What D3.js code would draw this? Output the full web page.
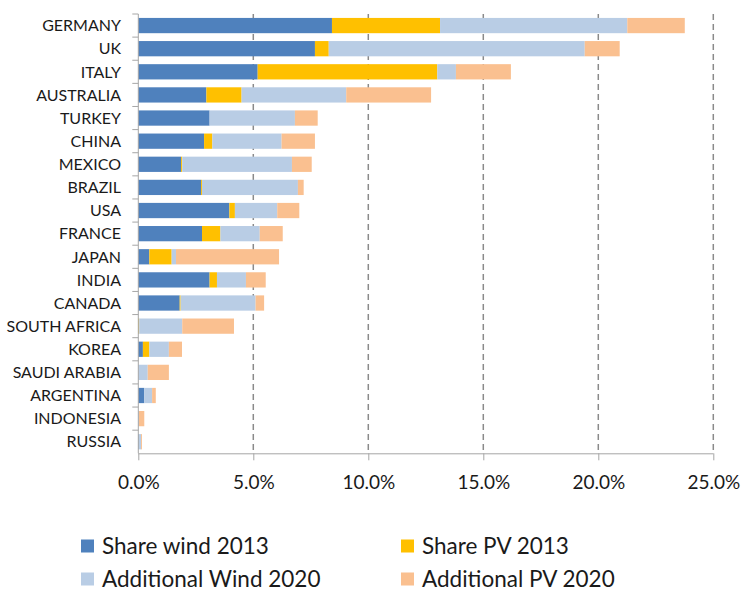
<!DOCTYPE html>
<html>
<head>
<meta charset="utf-8">
<script src="https://cdn.jsdelivr.net/npm/d3@7/dist/d3.min.js"></script>
<style>
  html, body { margin: 0; padding: 0; background: #fff; }
  svg { display: block; }
  text { font-family: Lato, "Open Sans", sans-serif; fill: #1a1a1a; }
</style>
</head>
<body>
<svg id="chart" width="742" height="592"></svg>
<script>
// Renewable share of electricity by country (% of generation)
const countries = ["GERMANY", "UK", "ITALY", "AUSTRALIA", "TURKEY", "CHINA", "MEXICO", "BRAZIL",
  "USA", "FRANCE", "JAPAN", "INDIA", "CANADA", "SOUTH AFRICA", "KOREA", "SAUDI ARABIA",
  "ARGENTINA", "INDONESIA", "RUSSIA"];
const shareWind2013 = [8.42, 7.68, 5.19, 2.96, 3.10, 2.86, 1.86, 2.73, 3.96, 2.77, 0.48, 3.10, 1.80, 0.00, 0.20, 0.00, 0.26, 0.00, 0.02];
const sharePv2013   = [4.70, 0.60, 7.81, 1.53, 0.00, 0.36, 0.05, 0.04, 0.24, 0.80, 0.97, 0.32, 0.04, 0.04, 0.28, 0.00, 0.00, 0.00, 0.00];
const addWind2020   = [8.14, 11.13, 0.81, 4.55, 3.71, 3.01, 4.77, 4.17, 1.84, 1.71, 0.19, 1.26, 3.26, 1.87, 0.85, 0.41, 0.34, 0.03, 0.10];
const addPv2020     = [2.50, 1.52, 2.39, 3.69, 0.99, 1.45, 0.86, 0.25, 0.96, 1.00, 4.48, 0.86, 0.37, 2.25, 0.57, 0.92, 0.16, 0.23, 0.04];
const seriesNames = ["Share wind 2013", "Share PV 2013", "Additional Wind 2020", "Additional PV 2020"];
const xTicks = [0, 5, 10, 15, 20, 25];

const colors = ["#4F81BD", "#FFC000", "#B9CDE5", "#FAC090"];
const seriesValues = [shareWind2013, sharePv2013, addWind2020, addPv2020];
const keys = ["w13", "pv13", "w20", "pv20"];

const rows = countries.map((c, i) => {
  const r = { country: c };
  keys.forEach((k, j) => r[k] = seriesValues[j][i]);
  return r;
});
const stacked = d3.stack().keys(keys)(rows);

const svg = d3.select("#chart");
const plot = { left: 138.3, right: 713.3, top: 14, bottom: 453.3 };

const x = d3.scaleLinear().domain([0, 25]).range([plot.left, plot.right]);
const y = d3.scaleBand().domain(countries).range([plot.top, plot.bottom])
  .paddingInner(0.34).paddingOuter(0.17);

// dashed vertical gridlines
svg.append("g").selectAll("line")
  .data(xTicks.filter(t => t > 0))
  .join("line")
  .attr("x1", d => x(d)).attr("x2", d => x(d))
  .attr("y1", plot.top).attr("y2", plot.bottom)
  .attr("stroke", "#8a8a8a").attr("stroke-width", 1.5)
  .attr("stroke-dasharray", "6,4");

// stacked segments
svg.append("g").selectAll("g")
  .data(stacked)
  .join("g")
  .attr("fill", (d, i) => colors[i])
  .selectAll("rect")
  .data(d => d)
  .join("rect")
  .attr("x", d => x(d[0]))
  .attr("width", d => Math.max(0, x(d[1]) - x(d[0])))
  .attr("y", d => y(d.data.country))
  .attr("height", y.bandwidth());

// left axis with ticks on band boundaries
const axisColor = "#a6a6a6";
const yAxis = svg.append("g");
yAxis.append("line")
  .attr("x1", plot.left).attr("x2", plot.left)
  .attr("y1", plot.top).attr("y2", plot.bottom)
  .attr("stroke", axisColor).attr("stroke-width", 1);
const step = y.step();
yAxis.selectAll("line.tick")
  .data(d3.range(countries.length))
  .join("line").attr("class", "tick")
  .attr("x1", plot.left - 6).attr("x2", plot.left)
  .attr("y1", i => plot.top + i * step).attr("y2", i => plot.top + i * step)
  .attr("stroke", axisColor);
yAxis.selectAll("text")
  .data(countries)
  .join("text")
  .attr("x", 121)
  .attr("y", d => y(d) + y.bandwidth() / 2)
  .attr("dy", "0.36em")
  .attr("text-anchor", "end")
  .attr("font-size", 16)
  .text(d => d);

// bottom axis
const xAxis = svg.append("g")
  .attr("transform", `translate(0,${plot.bottom})`)
  .call(d3.axisBottom(x).tickValues(xTicks).tickSize(7).tickPadding(0)
    .tickFormat(d => d.toFixed(1) + "%"));
xAxis.select(".domain").attr("stroke", axisColor).attr("d", `M${plot.left},0.5H${plot.right}`);
xAxis.selectAll(".tick line").attr("stroke", axisColor);
xAxis.selectAll(".tick text")
  .attr("y", 29).attr("dy", "0.36em")
  .attr("font-size", 19)
  .attr("font-family", "Lato, sans-serif")
  .attr("fill", "#1a1a1a");

// legend, two columns
const legend = svg.append("g");
const legPos = [[81, 546], [401, 546], [81, 579], [401, 579]];
seriesNames.forEach((name, i) => {
  const [lx, ly] = legPos[i];
  legend.append("rect")
    .attr("x", lx).attr("y", ly - 6.5)
    .attr("width", 13).attr("height", 13)
    .attr("fill", colors[i]);
  legend.append("text")
    .attr("x", lx + 21).attr("y", ly)
    .attr("dy", "0.36em")
    .attr("font-size", 22.5)
    .text(name);
});
</script>
</body>
</html>
